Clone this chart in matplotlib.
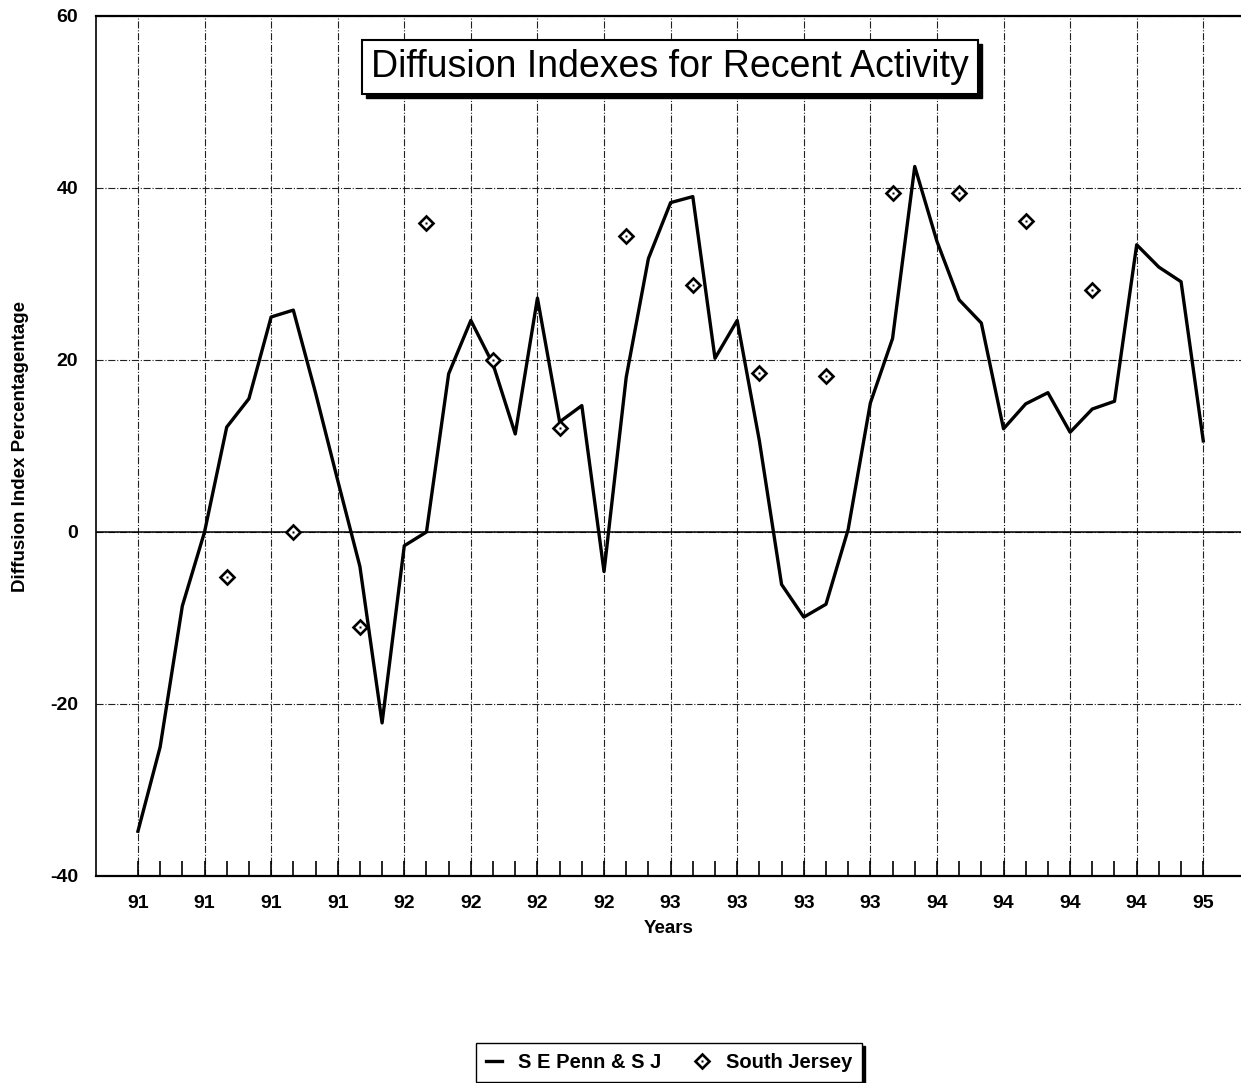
import matplotlib
matplotlib.use("Agg")
import matplotlib.pyplot as plt
from matplotlib.patches import Rectangle
import numpy as np

plt.rcParams['font.family'] = ['Liberation Sans', 'DejaVu Sans']
plt.rcParams['axes.unicode_minus'] = False

# monthly values, Jan 1991 .. Jan 1995
penn_sj = [-34.8, -25.0, -8.6, 0.0, 12.2, 15.5, 25.0, 25.8, 16.2, 6.0,
           -4.0, -22.2, -1.6, 0.0, 18.4, 24.6, 19.5, 11.4, 27.2, 12.8,
           14.7, -4.6, 18.0, 31.8, 38.3, 39.0, 20.2, 24.6, 10.6, -6.1,
           -9.9, -8.4, 0.3, 15.0, 22.5, 42.5, 33.8, 27.0, 24.3, 12.0,
           14.9, 16.2, 11.6, 14.3, 15.2, 33.4, 30.8, 29.1, 10.6]

# South Jersey only reported quarterly (month index into the series above)
south_jersey_months = [4, 7, 10, 13, 16, 19, 22, 25, 28, 31, 34, 37, 40, 43]
south_jersey = [-5.2, 0.0, -11.1, 35.9, 20.0, 12.1, 34.4, 28.7, 18.5, 18.1,
                39.4, 39.4, 36.2, 28.1]

tick_labels = ["91", "91", "91", "91", "92", "92", "92", "92", "93", "93",
               "93", "93", "94", "94", "94", "94", "95"]
y_ticks = [-40, -20, 0, 20, 40, 60]

W, H = 1241, 1083
fig = plt.figure(figsize=(W / 100, H / 100), dpi=100)
ax = fig.add_axes([96 / W, 1 - 876 / H, 1 - 96 / W, (876 - 16) / H])

months = np.arange(len(penn_sj))
line, = ax.plot(months, penn_sj, color="black", lw=2.4, zorder=5)
d_outer, = ax.plot(south_jersey_months, south_jersey, ls="none", marker="D",
                   ms=7.5, mfc="white", mec="black", mew=1.9, zorder=6)
d_inner, = ax.plot(south_jersey_months, south_jersey, ls="none", marker="s",
                   ms=1.8, mfc="black", mec="none", zorder=7)

ax.set_xlim(-1.89, 49.7)
ax.set_ylim(-40, 60)

ax.set_xticks(np.arange(0, len(penn_sj), 3))
ax.set_xticklabels(tick_labels, fontweight="bold", fontsize=14)
ax.set_xticks(months, minor=True)
ax.tick_params(axis="x", which="both", direction="in", length=11, width=1.2,
               pad=14, color="black")
ax.set_yticks(y_ticks)
ax.set_yticklabels([str(v) for v in y_ticks], fontweight="bold", fontsize=14)
ax.tick_params(axis="y", length=0, pad=13)

ax.grid(True, which="major", ls="-.", lw=0.8, color="#222222")
ax.axhline(0, color="black", lw=1.1, zorder=2)

for side in ("top", "bottom"):
    ax.spines[side].set_linewidth(1.6)
ax.spines["left"].set_linewidth(1.2)
ax.spines["right"].set_visible(False)

ax.set_ylabel("Diffusion Index Percentagentage", fontweight="bold", fontsize=13.5)
ax.yaxis.set_label_coords(-0.0585, 0.5)
ax.set_xlabel("Years", fontweight="bold", fontsize=13.5)
ax.xaxis.set_label_coords(0.5, -0.051)

# title box with a hard drop shadow
title_txt = fig.text(670 / W, 1 - 67 / H, "Diffusion Indexes for Recent Activity",
                     fontsize=27, ha="center", va="center", zorder=4,
                     bbox=dict(boxstyle="square,pad=0.25", fc="white",
                               ec="black", lw=1.5))
fig.canvas.draw()
bb = title_txt.get_bbox_patch().get_window_extent()
fig.add_artist(Rectangle((bb.x0 + 4, bb.y0 - 4), bb.width, bb.height,
                         transform=None, fc="black", ec="black", zorder=3))

fig.legend(handles=[line, (d_outer, d_inner)],
           labels=["S E Penn & S J", "South Jersey"],
           ncol=2, loc="upper center", bbox_to_anchor=(669 / W, 1 - 1043 / H),
           borderaxespad=0, frameon=True, fancybox=False, edgecolor="black",
           shadow={"color": "black", "alpha": 1},
           prop=dict(weight="bold", size=14.5), numpoints=1,
           handlelength=0.8, handletextpad=0.8, columnspacing=1.6,
           borderpad=0.5)

fig.savefig("out.png", dpi=100)
